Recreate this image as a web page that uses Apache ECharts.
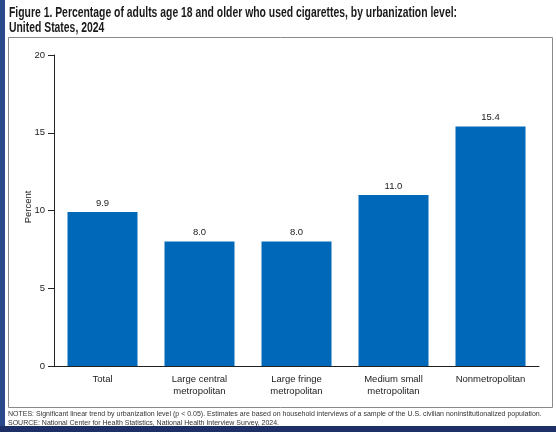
<!DOCTYPE html>
<html><head><meta charset="utf-8">
<script src="https://cdn.jsdelivr.net/npm/echarts@6/dist/echarts.min.js"></script>
<style>html,body{margin:0;padding:0;background:#fff}#c{width:556px;height:432px}</style>
</head><body><div id="c"></div>
<script>
var categories = ['Total', 'Large central\nmetropolitan', 'Large fringe\nmetropolitan', 'Medium small\nmetropolitan', 'Nonmetropolitan'];
var values = [9.9, 8.0, 8.0, 11.0, 15.4];
var yTicks = [0, 5, 10, 15, 20];
var yAxisName = 'Percent';
var titleLines = ['Figure 1. Percentage of adults age 18 and older who used cigarettes, by urbanization level:', 'United States, 2024'];
var notesText = 'NOTES: Significant linear trend by urbanization level (p < 0.05). Estimates are based on household interviews of a sample of the U.S. civilian noninstitutionalized population.\nSOURCE: National Center for Health Statistics, National Health Interview Survey, 2024.';

var titleFont = 'bold 15px Liberation Sans, Arial, sans-serif';
var cv = document.createElement('canvas').getContext('2d');
cv.font = titleFont;
var titleScale = 448 / cv.measureText(titleLines[0]).width;

var chart = echarts.init(document.getElementById('c'));
chart.setOption({
  animation: false,
  backgroundColor: '#fff',
  graphic: [
    { type: 'rect', shape: { x: 0, y: 0, width: 5, height: 432 }, style: { fill: '#2b4a8c' } },
    { type: 'rect', shape: { x: 0, y: 426, width: 556, height: 6 }, style: { fill: '#1e2f66' } },
    { type: 'rect', shape: { x: 8.5, y: 37.5, width: 544, height: 370 }, style: { fill: 'none', stroke: '#8a8a8a', lineWidth: 1 } },
    { type: 'text', x: 9, y: 6, scaleX: titleScale, style: { text: titleLines.join('\n'), font: titleFont, fill: '#1a1a1a', lineHeight: 14.5 } },
    { type: 'text', x: 23, y: 207, rotation: Math.PI / 2, style: { text: yAxisName, font: '9.5px Liberation Sans, Arial, sans-serif', fill: '#222', align: 'center', verticalAlign: 'top' } },
    { type: 'text', left: 8, top: 410, style: { text: notesText, font: '7px Liberation Sans, Arial, sans-serif', fill: '#333', lineHeight: 9 } }
  ],
  grid: { left: 54, right: 17, top: 55, bottom: 66 },
  xAxis: {
    type: 'category', data: categories,
    axisLine: { lineStyle: { color: '#222', width: 1 } },
    axisTick: { show: false },
    axisLabel: { color: '#222', fontSize: 9.5, fontFamily: 'Liberation Sans, Arial, sans-serif', margin: 7, lineHeight: 12, interval: 0 }
  },
  yAxis: {
    type: 'value', min: 0, max: 20, interval: 5,
    axisLine: { show: true, lineStyle: { color: '#222', width: 1 } },
    axisTick: { show: true, length: 6, lineStyle: { color: '#222' } },
    splitLine: { show: false },
    axisLabel: { color: '#222', fontSize: 9.5, fontFamily: 'Liberation Sans, Arial, sans-serif', margin: 9,
      formatter: function (v) { return yTicks.indexOf(v) >= 0 ? String(v) : ''; } }
  },
  series: [{
    type: 'bar', data: values, barWidth: 70,
    itemStyle: { color: '#0068b8' },
    label: { show: true, position: 'top', distance: 4, color: '#222', fontSize: 9.5, fontFamily: 'Liberation Sans, Arial, sans-serif',
      formatter: function (p) { return p.value.toFixed(1); } }
  }]
});
</script></body></html>
